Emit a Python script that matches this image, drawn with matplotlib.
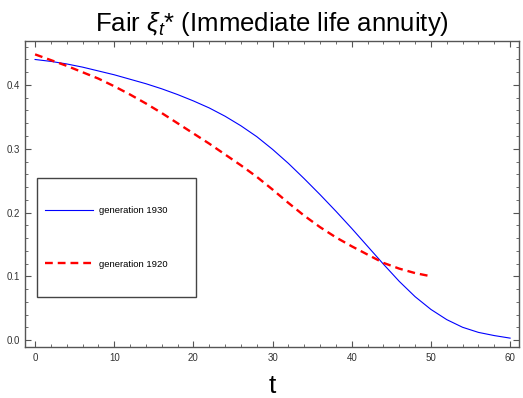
import matplotlib.pyplot as plt
from matplotlib.patches import Rectangle
from matplotlib.ticker import MultipleLocator

plt.rcParams['font.family'] = ['Liberation Sans', 'DejaVu Sans']
plt.rcParams['mathtext.fontset'] = 'custom'
plt.rcParams['mathtext.rm'] = 'Liberation Sans'
plt.rcParams['mathtext.it'] = 'Liberation Sans:italic'

# fair xi_t* over time, one curve per generation
t_1930 = [0, 2, 4, 6, 8, 10, 12, 14, 16, 18, 20, 22, 24, 26, 28, 30,
          32, 34, 36, 38, 40, 42, 44, 46, 48, 50, 52, 54, 56, 58, 60]
xi_1930 = [0.440, 0.437, 0.433, 0.428, 0.422, 0.416, 0.409, 0.402, 0.394,
           0.385, 0.375, 0.364, 0.351, 0.336, 0.319, 0.299, 0.277, 0.253,
           0.228, 0.202, 0.175, 0.147, 0.119, 0.092, 0.068, 0.048, 0.032,
           0.020, 0.012, 0.007, 0.003]

t_1920 = [0, 2, 4, 6, 8, 10, 12, 14, 16, 18, 20, 22, 24, 26, 28, 30,
          32, 34, 36, 38, 40, 42, 44, 46, 48, 50]
xi_1920 = [0.448, 0.439, 0.430, 0.420, 0.410, 0.398, 0.385, 0.371, 0.356,
           0.340, 0.324, 0.308, 0.291, 0.274, 0.256, 0.236, 0.215, 0.195,
           0.177, 0.161, 0.147, 0.134, 0.121, 0.112, 0.105, 0.100]

fig = plt.figure(figsize=(5.23, 3.98), dpi=100)
ax = fig.add_axes([0.048, 0.128, 0.944, 0.769])

ax.plot(t_1930, xi_1930, color='#0000ff', lw=0.8, label='generation 1930')
ax.plot(t_1920, xi_1920, color='#ff0000', lw=1.7, dashes=(3.3, 2.1),
        label='generation 1920')

ax.set_xlim(-1.26, 61.1)
ax.set_ylim(-0.011, 0.469)

ax.xaxis.set_major_locator(MultipleLocator(10))
ax.xaxis.set_minor_locator(MultipleLocator(2))
ax.yaxis.set_major_locator(MultipleLocator(0.1))
ax.yaxis.set_minor_locator(MultipleLocator(0.02))
ax.tick_params(which='both', direction='in', top=True, right=True,
               color='#555555', labelsize=7, labelcolor='#333333')
ax.tick_params(which='major', length=4.5, width=0.8, pad=4)
ax.tick_params(which='minor', length=2.5, width=0.6)
for s in ax.spines.values():
    s.set_color('#555555')
    s.set_linewidth(1.0)

ax.set_title(r'Fair $\xi_t$* (Immediate life annuity)', fontsize=18.5, pad=7)
ax.set_xlabel('t', fontsize=19, labelpad=8)

# framed box with the legend inside it
ax.add_patch(Rectangle((0.0237, 0.163), 0.322, 0.389, transform=ax.transAxes,
                       facecolor='white', edgecolor='#444444', lw=1.0,
                       zorder=3))
ax.legend(loc='center left', bbox_to_anchor=(0.0405, 0.358), frameon=False,
          fontsize=6.8, labelspacing=4.7, handlelength=5.1,
          handletextpad=0.64, borderpad=0, borderaxespad=0)

fig.savefig('out.png', dpi=100)
